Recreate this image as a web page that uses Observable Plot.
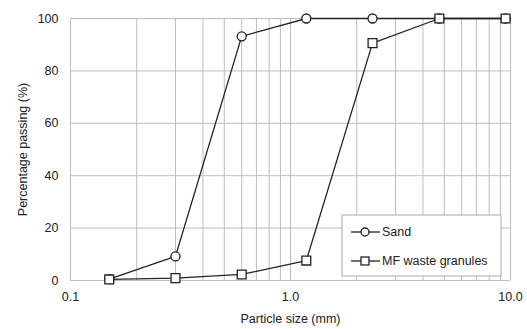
<!DOCTYPE html>
<html><head><meta charset="utf-8">
<script src="https://cdn.jsdelivr.net/npm/d3@7"></script>
<script src="https://cdn.jsdelivr.net/npm/@observablehq/plot@0.6"></script>
<style>
body{margin:0;background:#fff;}
svg{font-family:"Liberation Sans",Arial,sans-serif;}
</style>
</head><body><div id="chart"></div>
<script>
const sizes = [0.15, 0.3, 0.6, 1.18, 2.36, 4.75, 9.5];
const sand = [0.5, 9.2, 93.2, 100, 100, 100, 100];
const mfWaste = [0.4, 0.9, 2.3, 7.6, 90.6, 100, 100];
const seriesNames = ["Sand", "MF waste granules"];
const xTicks = [0.1, 1, 10];
const yTicks = [0, 20, 40, 60, 80, 100];
const xGrid = [0.1,0.2,0.3,0.4,0.5,0.6,0.7,0.8,0.9,1,2,3,4,5,6,7,8,9,10];

const sandData = sizes.map((s,i)=>({s, p:sand[i]}));
const mfData = sizes.map((s,i)=>({s, p:mfWaste[i]}));
const ink = "#222";
const gridC = "#bdbdbd";

const W = 527, H = 329, mL = 70, mR = 17, mT = 18, mB = 49;
const plot = Plot.plot({
  width: W, height: H,
  marginLeft: mL, marginRight: mR, marginTop: mT, marginBottom: mB,
  style: {fontSize: "12px", color: ink, fontFamily: "Liberation Sans, Arial, sans-serif", background: "#fff"},
  x: {type: "log", domain: [0.1, 10]},
  y: {domain: [0, 100]},
  marks: [
    Plot.ruleX(xGrid, {stroke: gridC, strokeWidth: 1}),
    Plot.ruleY(yTicks, {stroke: gridC, strokeWidth: 1}),
    Plot.axisX({ticks: xTicks, tickFormat: d => d.toFixed(1), tickSize: 0, tickPadding: 12,
      label: "Particle size (mm)", labelAnchor: "center", labelArrow: "none", labelOffset: 42, fontSize: 12.5}),
    Plot.axisY({ticks: yTicks, tickSize: 0, tickPadding: 12,
      label: "Percentage passing (%)", labelAnchor: "center", labelArrow: "none", labelOffset: 52, fontSize: 12.5}),
    Plot.line(sandData, {x: "s", y: "p", stroke: ink, strokeWidth: 1.3}),
    Plot.line(mfData, {x: "s", y: "p", stroke: ink, strokeWidth: 1.3}),
    Plot.dot(sandData, {x: "s", y: "p", symbol: "circle", r: 4.5, fill: "#fff", stroke: ink, strokeWidth: 1.3}),
    Plot.dot(mfData, {x: "s", y: "p", symbol: "square", r: 5, fill: "#fff", stroke: ink, strokeWidth: 1.3})
  ]
});
document.getElementById("chart").append(plot);

// legend box
const svg = d3.select(plot);
const lg = svg.append("g").attr("transform", "translate(342,215)").attr("text-anchor", "start");
lg.append("rect").attr("width", 159).attr("height", 61).attr("fill", "#fff").attr("stroke", "#aaa");
const items = [{name: seriesNames[0], sym: "circle"}, {name: seriesNames[1], sym: "square"}];
items.forEach((it, i) => {
  const y = 17 + i * 29;
  lg.append("line").attr("x1", 9).attr("x2", 38).attr("y1", y).attr("y2", y).attr("stroke", ink).attr("stroke-width", 1.3);
  if (it.sym === "circle") lg.append("circle").attr("cx", 23).attr("cy", y).attr("r", 4).attr("fill", "#fff").attr("stroke", ink).attr("stroke-width", 1.3);
  else lg.append("rect").attr("x", 19).attr("y", y - 4).attr("width", 8).attr("height", 8).attr("fill", "#fff").attr("stroke", ink).attr("stroke-width", 1.3);
  lg.append("text").attr("x", 40).attr("y", y).attr("dy", "0.35em").attr("text-anchor", "start").attr("font-size", 12.5).attr("fill", ink).text(it.name);
});
</script></body></html>
